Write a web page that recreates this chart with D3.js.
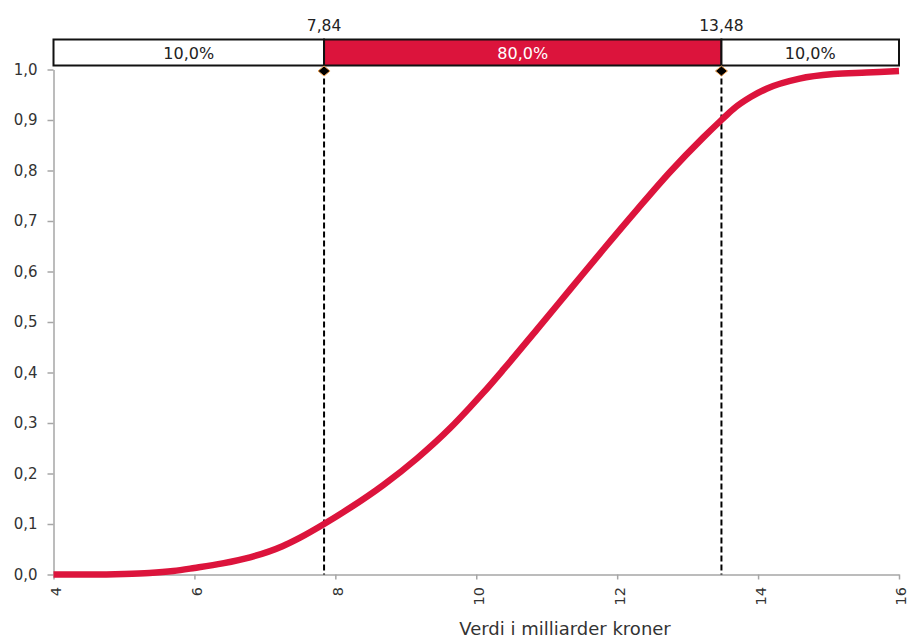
<!DOCTYPE html>
<html><head><meta charset="utf-8">
<script src="https://cdn.jsdelivr.net/npm/d3@7"></script>
<style>
body{margin:0;background:#fff;}
svg{display:block;font-family:"DejaVu Sans",Verdana,sans-serif;}
</style></head>
<body>
<script>
// ---- data ----
const xValues = [4, 4.5, 5, 5.36, 5.7, 6, 6.4, 6.79, 7.25, 7.5, 7.84, 8.21, 8.68, 9.16, 9.63, 9.91, 10.1, 10.38, 10.86, 11.33, 11.8, 12.28, 12.75, 13.22, 13.48, 13.65, 13.9, 14.12, 14.59, 15.07, 15.54, 16];
const cdfValues = [0, 0, 0.001, 0.003, 0.007, 0.013, 0.022, 0.034, 0.056, 0.073, 0.10, 0.132, 0.177, 0.230, 0.290, 0.331, 0.360, 0.405, 0.485, 0.564, 0.643, 0.722, 0.797, 0.865, 0.90, 0.922, 0.946, 0.962, 0.982, 0.991, 0.994, 0.997];
const xTicks = [4, 6, 8, 10, 12, 14, 16];
const yTicks = [0, 0.1, 0.2, 0.3, 0.4, 0.5, 0.6, 0.7, 0.8, 0.9, 1.0];
const cutoffs = [7.84, 13.48];
const segmentLabels = ["10,0%", "80,0%", "10,0%"];
const cutoffLabels = ["7,84", "13,48"];
const xTitle = "Verdi i milliarder kroner";

const W = 909, H = 642;
const red = "#DC143C";
const txt = "#333";

const svg = d3.select("body").append("svg").attr("width", W).attr("height", H);
const x = d3.scaleLinear().domain([4, 16]).range([53.5, 899]);
const y = d3.scaleLinear().domain([0, 1]).range([574.5, 69.5]);
const fmt = d3.format(".1f");
const comma = v => fmt(v).replace(".", ",");

// axes
const xAxis = svg.append("g").attr("transform", `translate(0,${y(0)})`)
  .call(d3.axisBottom(x).tickValues(xTicks).tickSize(5).tickSizeOuter(0).tickFormat(d => d));
xAxis.select(".domain").attr("stroke", "#a6a6a6").attr("stroke-width", 1.5);
xAxis.selectAll(".tick line").attr("stroke", "#a6a6a6").attr("stroke-width", 1.5);
xAxis.selectAll(".tick text")
  .attr("transform", "rotate(-90)")
  .attr("x", -12.5).attr("y", 0).attr("dy", "0.48em")
  .attr("text-anchor", "end")
  .attr("font-size", 14.5).attr("fill", txt)
  .attr("font-family", "DejaVu Sans");

const yAxis = svg.append("g").attr("transform", `translate(53.5,0)`)
  .call(d3.axisLeft(y).tickValues(yTicks).tickSize(6).tickSizeOuter(0).tickFormat(comma));
yAxis.select(".domain").attr("stroke", "#a6a6a6").attr("stroke-width", 1.5);
yAxis.selectAll(".tick line").attr("stroke", "#a6a6a6").attr("stroke-width", 1.5);
yAxis.selectAll(".tick text").attr("x", -16).attr("font-size", 15).attr("fill", txt)
  .attr("font-family", "DejaVu Sans");

// axis title
svg.append("text").attr("x", 565).attr("y", 635).attr("text-anchor", "middle")
  .attr("font-size", 18).attr("fill", txt).text(xTitle);

// dashed cutoffs
svg.selectAll(".cut").data(cutoffs).enter().append("line")
  .attr("x1", d => x(d)).attr("x2", d => x(d))
  .attr("y1", y(1)).attr("y2", y(0))
  .attr("stroke", "#000").attr("stroke-width", 2).attr("stroke-dasharray", "6,3");

// curve
const pts = xValues.map((v, i) => [v, cdfValues[i]]);
svg.append("path").datum(pts)
  .attr("d", d3.line().x(d => x(d[0])).y(d => y(d[1])).curve(d3.curveMonotoneX))
  .attr("fill", "none").attr("stroke", red).attr("stroke-width", 6.5)
  .attr("stroke-linecap", "butt").attr("stroke-linejoin", "round");

// top band
const bounds = [4, cutoffs[0], cutoffs[1], 16];
const bandTop = 39.5, bandH = 26;
const segs = segmentLabels.map((lab, i) => ({x0: bounds[i], x1: bounds[i+1], lab, mid: i === 1}));
svg.selectAll(".seg").data(segs).enter().append("rect")
  .attr("x", d => x(d.x0)).attr("y", bandTop)
  .attr("width", d => x(d.x1) - x(d.x0)).attr("height", bandH)
  .attr("fill", d => d.mid ? red : "#fff")
  .attr("stroke", "#111").attr("stroke-width", 2);
svg.selectAll(".segl").data(segs).enter().append("text")
  .attr("x", d => (x(d.x0) + x(d.x1)) / 2).attr("y", 59)
  .attr("text-anchor", "middle").attr("font-size", 16)
  .attr("fill", d => d.mid ? "#fff" : "#222").text(d => d.lab);

// cutoff labels
svg.selectAll(".cutl").data(cutoffs).enter().append("text")
  .attr("x", d => x(d)).attr("y", 31).attr("text-anchor", "middle")
  .attr("font-size", 15.5).attr("fill", "#222").text((d, i) => cutoffLabels[i]);

// diamonds
svg.selectAll(".dia").data(cutoffs).enter().append("path")
  .attr("transform", d => `translate(${x(d)},${y(1) + 1.5})`)
  .attr("d", "M0,-5L6,0L0,5L-6,0Z")
  .attr("fill", "#000").attr("stroke", "#f0a050").attr("stroke-width", 1);
</script>
</body></html>
